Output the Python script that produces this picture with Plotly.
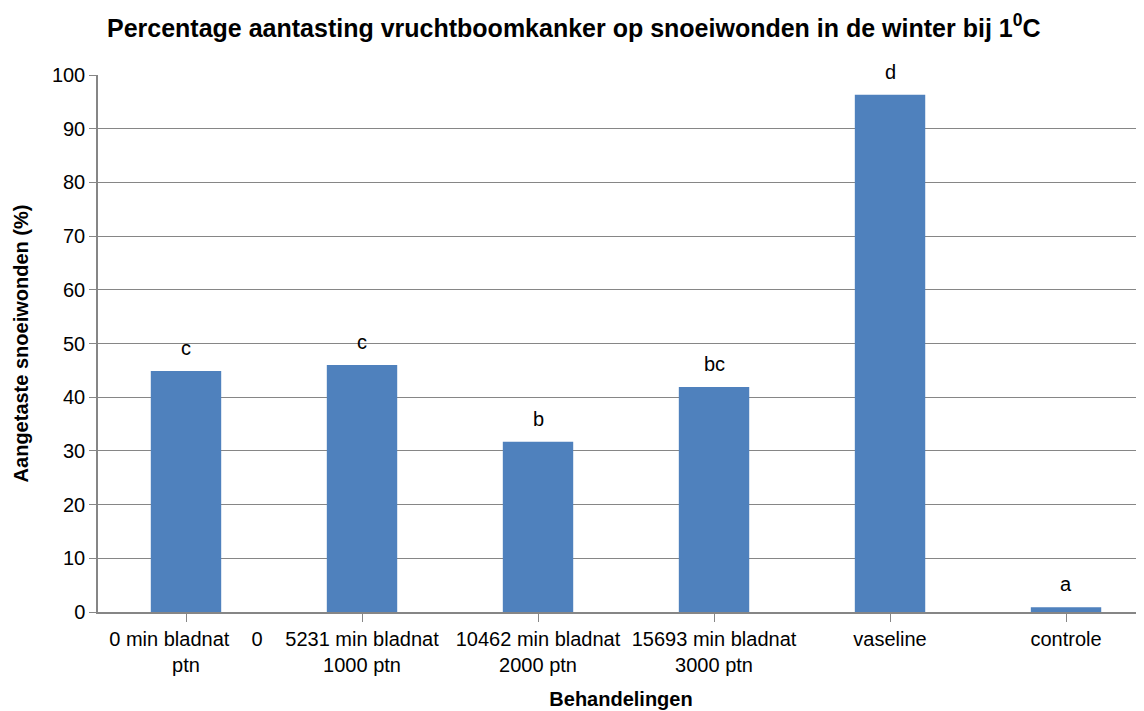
import plotly.graph_objects as go

categories = ["0 min bladnat\u00a0\u00a0\u00a0\u00a00<br>ptn", "5231 min bladnat<br>1000 ptn", "10462 min bladnat<br>2000 ptn",
              "15693 min bladnat<br>3000 ptn", "vaseline", "controle"]
values = [44.9, 46.0, 31.7, 41.9, 96.3, 0.9]
letters = ["c", "c", "b", "bc", "d", "a"]

FONT = "Liberation Sans, Arial, sans-serif"
BLACK = "#000000"
GREY = "#868686"

xs = list(range(len(categories)))

fig = go.Figure(go.Bar(
    x=xs, y=values, width=0.4,
    marker=dict(color="#4F81BD", line=dict(width=0)),
    hoverinfo="x+y",
))

for xi, yi, lab in zip(xs, values, letters):
    fig.add_annotation(x=xi, y=yi, text=lab, showarrow=False, xanchor="center", yanchor="bottom",
                       yshift=10, font=dict(family=FONT, size=20, color=BLACK))

fig.update_layout(
    width=1136, height=703,
    margin=dict(l=90, r=0, t=67, b=99),
    paper_bgcolor="white", plot_bgcolor="white",
    showlegend=False,
    title=dict(text="<b>Percentage aantasting vruchtboomkanker op snoeiwonden in de winter bij 1<sup>0</sup>C</b>",
               x=0.498, xanchor="center", y=0.9716, yanchor="middle",
               font=dict(family=FONT, size=25, color=BLACK)),
    font=dict(family=FONT, size=20, color=BLACK),
)
fig.update_xaxes(
    range=[-0.5, 5.443], tickmode="array", tickvals=xs, ticktext=categories,
    showgrid=False, showline=True, linecolor=GREY, linewidth=1.5,
    ticks="outside", tickson="boundaries", ticklen=8, tickcolor=GREY,
    tickfont=dict(family=FONT, size=20, color=BLACK),
    title=dict(text="<b>Behandelingen</b>", font=dict(family=FONT, size=20, color=BLACK), standoff=17),
)
fig.update_yaxes(
    range=[0, 100], dtick=10, showgrid=True, gridcolor=GREY, gridwidth=1,
    showline=True, linecolor=GREY, linewidth=1.5,
    ticks="outside", ticklen=7, tickcolor=GREY,
    tickfont=dict(family=FONT, size=20, color=BLACK),
    zeroline=False,
    title=dict(text="<b>Aangetaste snoeiwonden (%)</b>", font=dict(family=FONT, size=20, color=BLACK), standoff=18),
)
fig.write_html("out.html")
